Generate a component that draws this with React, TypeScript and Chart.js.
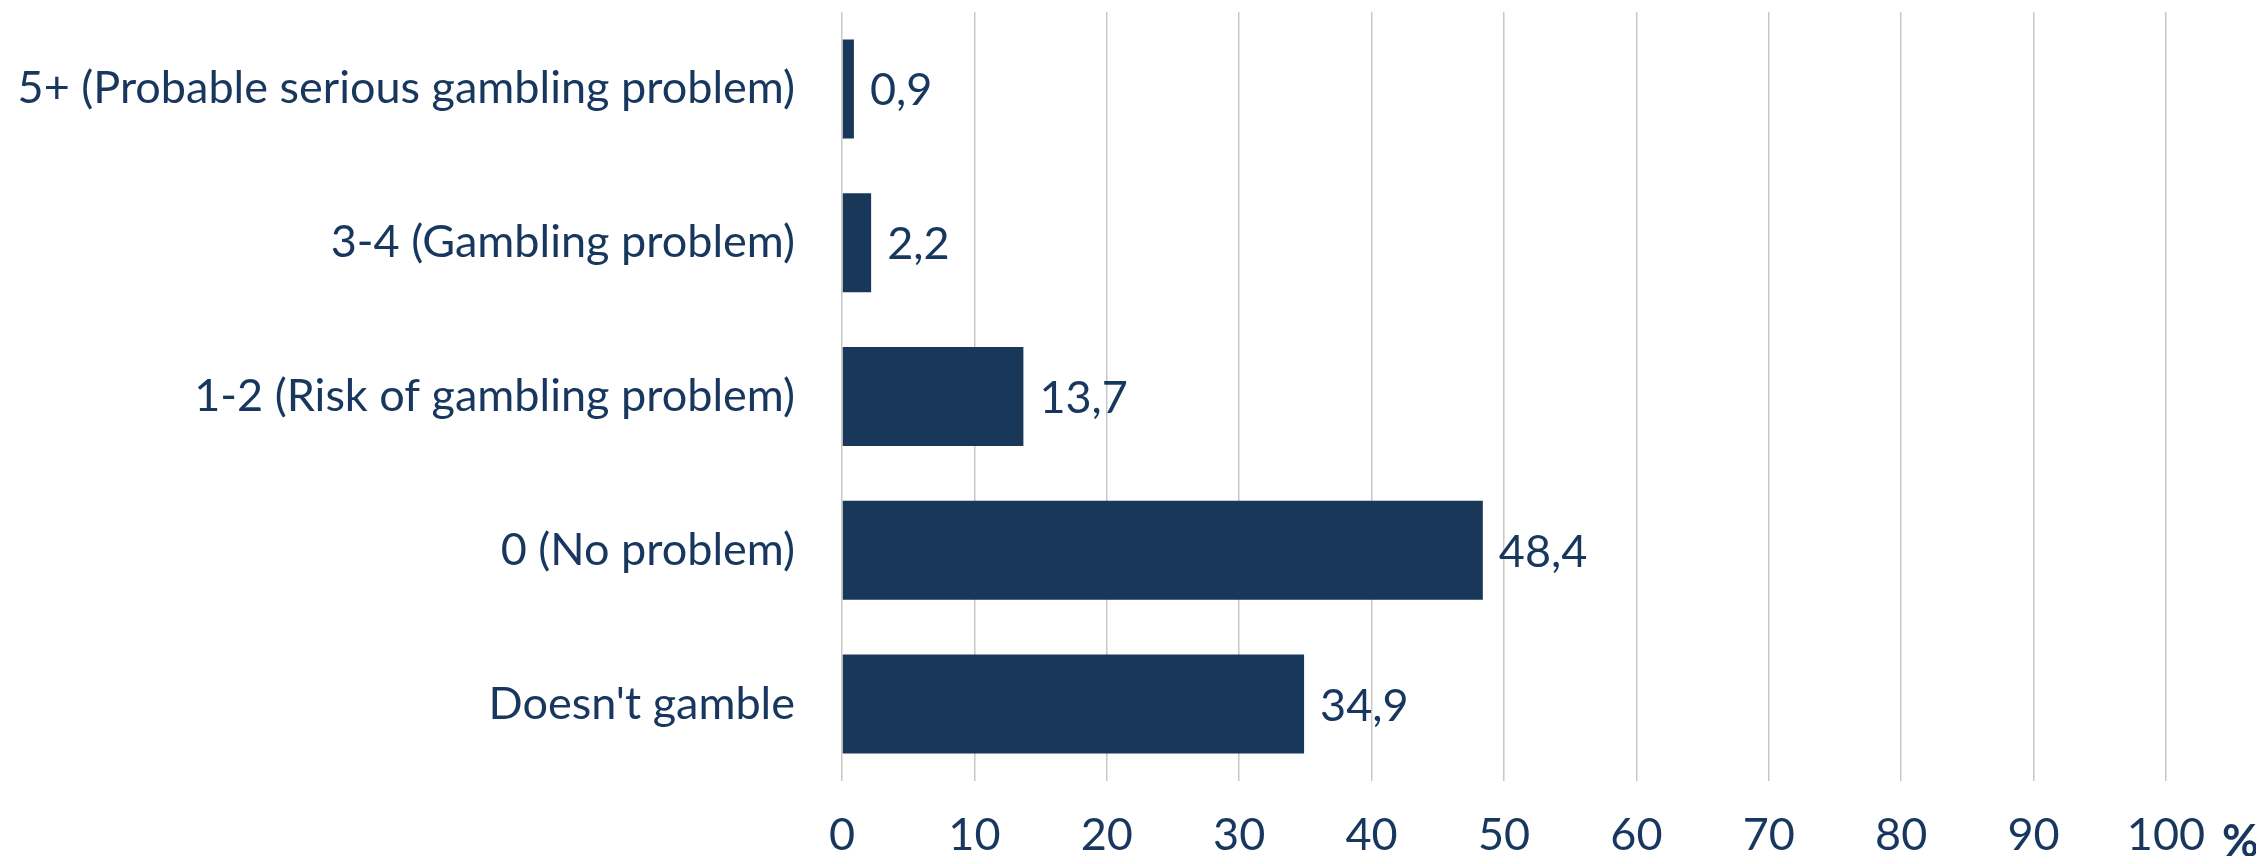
import React, { useEffect, useRef } from "react";
import { Chart, registerables } from "chart.js";

Chart.register(...registerables);

const categories = [
  "5+ (Probable serious gambling problem)",
  "3-4 (Gambling problem)",
  "1-2 (Risk of gambling problem)",
  "0 (No problem)",
  "Doesn't gamble",
];
const values = [0.9, 2.2, 13.7, 48.4, 34.9];
const xTicks = [0, 10, 20, 30, 40, 50, 60, 70, 80, 90, 100];
const unitLabel = "%";

const FONT = "Lato, 'Open Sans', sans-serif";
const TEXT = "#17375E";
const BAR = "#183759";
const SIZE = 45;

const dataLabels = {
  id: "dataLabels",
  afterDatasetsDraw(chart: any) {
    const ctx = chart.ctx;
    const meta = chart.getDatasetMeta(0);
    ctx.save();
    ctx.font = `${SIZE}px ${FONT}`;
    ctx.fillStyle = TEXT;
    ctx.textAlign = "left";
    ctx.textBaseline = "middle";
    meta.data.forEach((bar: any, i: number) => {
      const v = values[i];
      ctx.fillText(v.toFixed(1).replace(".", ","), bar.x + 16, bar.y + 2);
    });
    const xs = chart.scales.x;
    const px = xs.getPixelForValue(xTicks[xTicks.length - 1]);
    ctx.font = `bold ${SIZE}px ${FONT}`;
    ctx.fillText(unitLabel, px + 56, chart.chartArea.bottom + 61);
    ctx.restore();
  },
};

export default function App() {
  const ref = useRef<HTMLCanvasElement | null>(null);
  useEffect(() => {
    if (!ref.current) return;
    const chart = new Chart(ref.current, {
      type: "bar",
      data: {
        labels: categories,
        datasets: [
          {
            data: values,
            backgroundColor: BAR,
            barPercentage: 0.644,
            categoryPercentage: 1,
          },
        ],
      },
      options: {
        indexAxis: "y",
        animation: false,
        responsive: true,
        maintainAspectRatio: false,
        layout: { padding: { left: 0, right: 90, top: 4, bottom: 0 } },
        plugins: {
          legend: { display: false },
          tooltip: { enabled: false },
        },
        scales: {
          x: {
            min: 0,
            max: 100,
            afterBuildTicks: (s: any) => {
              s.ticks = xTicks.map((v) => ({ value: v }));
            },
            afterFit: (s: any) => {
              s.height = 75;
              s.paddingLeft = 0;
              s.paddingRight = 0;
            },
            grid: { color: "#c8c8c8", lineWidth: 1.5, drawTicks: false },
            border: { display: false },
            ticks: {
              color: TEXT,
              font: { family: FONT, size: SIZE },
              padding: 27,
              maxRotation: 0,
            },
          },
          y: {
            afterFit: (s: any) => {
              s.width = 834;
              s.paddingTop = 0;
              s.paddingBottom = 0;
            },
            grid: { display: false, drawTicks: false },
            border: { display: false },
            ticks: {
              color: TEXT,
              font: { family: FONT, size: SIZE },
              padding: 47,
            },
          },
        },
      },
      plugins: [dataLabels],
    });
    return () => chart.destroy();
  }, []);
  return (
    <div style={{ width: 2248, height: 848, position: "relative" }}>
      <canvas ref={ref} />
    </div>
  );
}
